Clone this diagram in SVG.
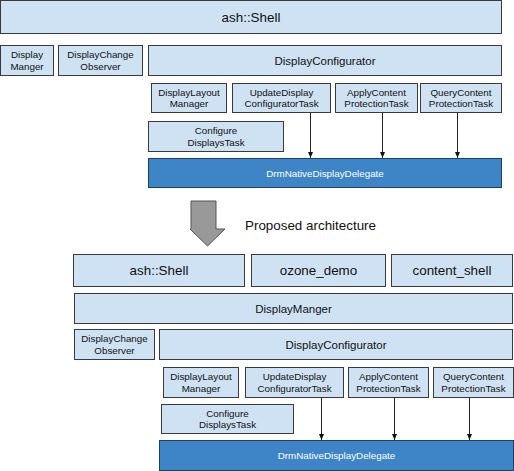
<svg xmlns="http://www.w3.org/2000/svg" width="514" height="471" viewBox="0 0 514 471">
<defs>
<style>
.n{fill:#cfe2f3;stroke:#3a3a3a;stroke-width:1}
.d{fill:#3d85c6;stroke:#1f3f66;stroke-width:1}
text{font-family:"Liberation Sans",Arial,sans-serif;fill:#111;text-anchor:middle}
.s{font-size:9.8px}
.m{font-size:11.5px}
.l{font-size:13.4px}
.w{fill:#ffffff}
.c{stroke:#222;stroke-width:1;fill:none;marker-end:url(#ah)}
</style>
<marker id="ah" viewBox="0 0 6 6" refX="6" refY="3" markerWidth="6" markerHeight="6" orient="auto" markerUnits="userSpaceOnUse">
<path d="M0,0.5 L6,3 L0,5.5 Z" fill="#111"/>
</marker>
</defs>

<!-- Top: current architecture -->
<g id="top-ash-shell"><rect class="n" x="0.5" y="0.5" width="501" height="33"/><text class="l" x="251" y="21.5">ash::Shell</text></g>
<g id="top-display-manger"><rect class="n" x="0.5" y="45.5" width="53" height="30"/><text class="s" x="27" y="58">Display<tspan x="27" dy="11.5">Manger</tspan></text></g>
<g id="top-display-change-observer"><rect class="n" x="58.5" y="45.5" width="84" height="30"/><text class="s" x="100.5" y="58">DisplayChange<tspan x="100.5" dy="11.5">Observer</tspan></text></g>
<g id="top-display-configurator"><rect class="n" x="148.5" y="45.5" width="353" height="30"/><text class="m" x="325" y="64.5">DisplayConfigurator</text></g>
<g id="top-display-layout-manager"><rect class="n" x="151.5" y="83.5" width="75" height="29"/><text class="s" x="189" y="95.5">DisplayLayout<tspan x="189" dy="11.5">Manager</tspan></text></g>
<g id="top-update-display-configurator-task"><rect class="n" x="232.5" y="83.5" width="98" height="29"/><text class="s" x="281.5" y="95.5">UpdateDisplay<tspan x="281.5" dy="11.5">ConfiguratorTask</tspan></text></g>
<g id="top-apply-content-protection-task"><rect class="n" x="335.5" y="83.5" width="82" height="29"/><text class="s" x="376.5" y="95.5">ApplyContent<tspan x="376.5" dy="11.5">ProtectionTask</tspan></text></g>
<g id="top-query-content-protection-task"><rect class="n" x="420.5" y="83.5" width="81" height="29"/><text class="s" x="461" y="95.5">QueryContent<tspan x="461" dy="11.5">ProtectionTask</tspan></text></g>
<g id="top-configure-displays-task"><rect class="n" x="148.5" y="121.5" width="135" height="30"/><text class="s" x="216" y="134">Configure<tspan x="216" dy="11.5">DisplaysTask</tspan></text></g>
<g id="top-drm-native-display-delegate"><rect class="d" x="148.5" y="158.5" width="353" height="29"/><text class="s w" x="325" y="176.5">DrmNativeDisplayDelegate</text></g>

<!-- Transition -->
<g id="proposed-arrow"><polygon points="191,201 216,201 216,229 225,229 207.5,246 190,229 191,229" fill="#999999" stroke="#555555" stroke-width="1"/></g>
<text class="l" x="245" y="230" style="text-anchor:start">Proposed architecture</text>

<!-- Bottom: proposed architecture -->
<g id="bot-ash-shell"><rect class="n" x="73.5" y="254.5" width="171" height="32"/><text class="l" x="159" y="275">ash::Shell</text></g>
<g id="bot-ozone-demo"><rect class="n" x="251.5" y="254.5" width="134" height="32"/><text class="l" x="318.5" y="275">ozone_demo</text></g>
<g id="bot-content-shell"><rect class="n" x="391.5" y="254.5" width="121" height="32"/><text class="l" x="452" y="275">content_shell</text></g>
<g id="bot-display-manger"><rect class="n" x="74.5" y="293.5" width="438" height="30"/><text class="m" x="293.5" y="312.5">DisplayManger</text></g>
<g id="bot-display-change-observer"><rect class="n" x="74.5" y="329.5" width="80" height="30"/><text class="s" x="114.5" y="342">DisplayChange<tspan x="114.5" dy="11.5">Observer</tspan></text></g>
<g id="bot-display-configurator"><rect class="n" x="159.5" y="329.5" width="353" height="30"/><text class="m" x="336" y="348.5">DisplayConfigurator</text></g>
<g id="bot-display-layout-manager"><rect class="n" x="163.5" y="367.5" width="75" height="30"/><text class="s" x="201" y="380">DisplayLayout<tspan x="201" dy="11.5">Manager</tspan></text></g>
<g id="bot-update-display-configurator-task"><rect class="n" x="245.5" y="367.5" width="98" height="30"/><text class="s" x="294.5" y="380">UpdateDisplay<tspan x="294.5" dy="11.5">ConfiguratorTask</tspan></text></g>
<g id="bot-apply-content-protection-task"><rect class="n" x="348.5" y="367.5" width="80" height="30"/><text class="s" x="388.5" y="380">ApplyContent<tspan x="388.5" dy="11.5">ProtectionTask</tspan></text></g>
<g id="bot-query-content-protection-task"><rect class="n" x="433.5" y="367.5" width="80" height="30"/><text class="s" x="473.5" y="380">QueryContent<tspan x="473.5" dy="11.5">ProtectionTask</tspan></text></g>
<g id="bot-configure-displays-task"><rect class="n" x="161.5" y="404.5" width="132" height="29"/><text class="s" x="227.5" y="416.5">Configure<tspan x="227.5" dy="11.5">DisplaysTask</tspan></text></g>
<g id="bot-drm-native-display-delegate"><rect class="d" x="159.5" y="440.5" width="354" height="30"/><text class="s w" x="336.5" y="458.5">DrmNativeDisplayDelegate</text></g>

<g id="connectors">
<line class="c" x1="310.5" y1="112.5" x2="310.5" y2="158"/>
<line class="c" x1="382.5" y1="112.5" x2="382.5" y2="158"/>
<line class="c" x1="457.5" y1="112.5" x2="457.5" y2="158"/>
<line class="c" x1="321.5" y1="397.5" x2="321.5" y2="440"/>
<line class="c" x1="394.5" y1="397.5" x2="394.5" y2="440"/>
<line class="c" x1="469.5" y1="397.5" x2="469.5" y2="440"/>
</g>
</svg>
